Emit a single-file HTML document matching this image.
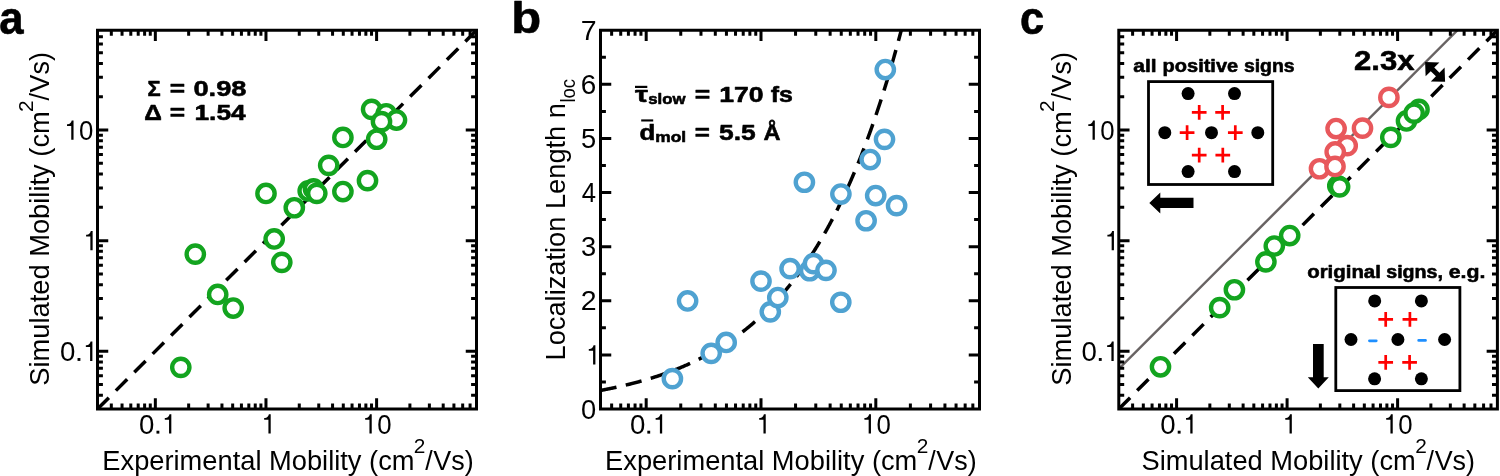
<!DOCTYPE html>
<html><head><meta charset="utf-8"><style>
html,body{margin:0;padding:0;background:#fff;width:1500px;height:476px;overflow:hidden}
svg{display:block}
svg{will-change:transform}
text{font-family:"Liberation Sans", sans-serif;font-size:100px}
</style></head><body>
<svg width="1500" height="476" viewBox="0 0 1500 476">
<rect width="1500" height="476" fill="#fff"/>
<defs><clipPath id="clipa"><rect x="97.5" y="30.25" width="379.00" height="378.75"/></clipPath><clipPath id="clipb"><rect x="600.5" y="30.25" width="379.00" height="378.75"/></clipPath><clipPath id="clipc"><rect x="1118.8" y="30.25" width="378.60" height="378.75"/></clipPath></defs><g clip-path="url(#clipa)"><path d="M97.5 409.0L476.5 30.25" stroke="#000" stroke-width="3.5" stroke-dasharray="16 10" fill="none"/><circle cx="180.80" cy="367.35" r="8.65" fill="#fff" stroke="#13a41f" stroke-width="4.4"/><circle cx="195.30" cy="254.15" r="8.65" fill="#fff" stroke="#13a41f" stroke-width="4.4"/><circle cx="217.70" cy="294.45" r="8.65" fill="#fff" stroke="#13a41f" stroke-width="4.4"/><circle cx="233.20" cy="308.05" r="8.65" fill="#fff" stroke="#13a41f" stroke-width="4.4"/><circle cx="266.00" cy="193.45" r="8.65" fill="#fff" stroke="#13a41f" stroke-width="4.4"/><circle cx="274.20" cy="238.95" r="8.65" fill="#fff" stroke="#13a41f" stroke-width="4.4"/><circle cx="281.80" cy="262.35" r="8.65" fill="#fff" stroke="#13a41f" stroke-width="4.4"/><circle cx="294.30" cy="207.75" r="8.65" fill="#fff" stroke="#13a41f" stroke-width="4.4"/><circle cx="308.20" cy="190.95" r="8.65" fill="#fff" stroke="#13a41f" stroke-width="4.4"/><circle cx="313.50" cy="188.95" r="8.65" fill="#fff" stroke="#13a41f" stroke-width="4.4"/><circle cx="316.80" cy="193.35" r="8.65" fill="#fff" stroke="#13a41f" stroke-width="4.4"/><circle cx="328.70" cy="165.35" r="8.65" fill="#fff" stroke="#13a41f" stroke-width="4.4"/><circle cx="342.90" cy="191.55" r="8.65" fill="#fff" stroke="#13a41f" stroke-width="4.4"/><circle cx="342.90" cy="137.45" r="8.65" fill="#fff" stroke="#13a41f" stroke-width="4.4"/><circle cx="367.50" cy="180.65" r="8.65" fill="#fff" stroke="#13a41f" stroke-width="4.4"/><circle cx="371.60" cy="109.35" r="8.65" fill="#fff" stroke="#13a41f" stroke-width="4.4"/><circle cx="386.20" cy="113.75" r="8.65" fill="#fff" stroke="#13a41f" stroke-width="4.4"/><circle cx="396.50" cy="120.05" r="8.65" fill="#fff" stroke="#13a41f" stroke-width="4.4"/><circle cx="381.50" cy="121.65" r="8.65" fill="#fff" stroke="#13a41f" stroke-width="4.4"/><circle cx="376.70" cy="139.25" r="8.65" fill="#fff" stroke="#13a41f" stroke-width="4.4"/></g><path d="M111.32 409.00V403.60M111.32 30.25V35.65M122.04 409.00V403.60M122.04 30.25V35.65M130.80 409.00V403.60M130.80 30.25V35.65M138.21 409.00V403.60M138.21 30.25V35.65M144.62 409.00V403.60M144.62 30.25V35.65M150.28 409.00V403.60M150.28 30.25V35.65M155.34 409.00V398.25M155.34 30.25V41.00M188.65 409.00V403.60M188.65 30.25V35.65M208.13 409.00V403.60M208.13 30.25V35.65M221.95 409.00V403.60M221.95 30.25V35.65M232.67 409.00V403.60M232.67 30.25V35.65M241.43 409.00V403.60M241.43 30.25V35.65M248.83 409.00V403.60M248.83 30.25V35.65M255.25 409.00V403.60M255.25 30.25V35.65M260.91 409.00V403.60M260.91 30.25V35.65M265.97 409.00V398.25M265.97 30.25V41.00M299.27 409.00V403.60M299.27 30.25V35.65M318.75 409.00V403.60M318.75 30.25V35.65M332.57 409.00V403.60M332.57 30.25V35.65M343.29 409.00V403.60M343.29 30.25V35.65M352.05 409.00V403.60M352.05 30.25V35.65M359.46 409.00V403.60M359.46 30.25V35.65M365.87 409.00V403.60M365.87 30.25V35.65M371.53 409.00V403.60M371.53 30.25V35.65M376.60 409.00V398.25M376.60 30.25V41.00M409.90 409.00V403.60M409.90 30.25V35.65M429.38 409.00V403.60M429.38 30.25V35.65M443.20 409.00V403.60M443.20 30.25V35.65M453.92 409.00V403.60M453.92 30.25V35.65M462.68 409.00V403.60M462.68 30.25V35.65M470.08 409.00V403.60M470.08 30.25V35.65M97.50 395.19H102.90M476.50 395.19H471.10M97.50 384.47H102.90M476.50 384.47H471.10M97.50 375.72H102.90M476.50 375.72H471.10M97.50 368.32H102.90M476.50 368.32H471.10M97.50 361.91H102.90M476.50 361.91H471.10M97.50 356.25H102.90M476.50 356.25H471.10M97.50 351.19H108.25M476.50 351.19H465.75M97.50 317.91H102.90M476.50 317.91H471.10M97.50 298.45H102.90M476.50 298.45H471.10M97.50 284.64H102.90M476.50 284.64H471.10M97.50 273.92H102.90M476.50 273.92H471.10M97.50 265.17H102.90M476.50 265.17H471.10M97.50 257.77H102.90M476.50 257.77H471.10M97.50 251.36H102.90M476.50 251.36H471.10M97.50 245.70H102.90M476.50 245.70H471.10M97.50 240.64H108.25M476.50 240.64H465.75M97.50 207.36H102.90M476.50 207.36H471.10M97.50 187.89H102.90M476.50 187.89H471.10M97.50 174.08H102.90M476.50 174.08H471.10M97.50 163.37H102.90M476.50 163.37H471.10M97.50 154.61H102.90M476.50 154.61H471.10M97.50 147.21H102.90M476.50 147.21H471.10M97.50 140.80H102.90M476.50 140.80H471.10M97.50 135.15H102.90M476.50 135.15H471.10M97.50 130.09H108.25M476.50 130.09H465.75M97.50 96.81H102.90M476.50 96.81H471.10M97.50 77.34H102.90M476.50 77.34H471.10M97.50 63.53H102.90M476.50 63.53H471.10M97.50 52.82H102.90M476.50 52.82H471.10M97.50 44.06H102.90M476.50 44.06H471.10M97.50 36.66H102.90M476.50 36.66H471.10" stroke="#000" stroke-width="3.0" fill="none"/><rect x="97.5" y="30.25" width="379.00" height="378.75" stroke="#000" stroke-width="3.0" fill="none"/><g clip-path="url(#clipb)"><path d="M600.50 390.44L601.00 390.35L601.50 390.25L602.00 390.16L602.50 390.07L603.00 389.97L603.50 389.87L604.00 389.78L604.50 389.68L605.00 389.58L605.50 389.49L606.00 389.39L606.50 389.29L607.00 389.19L607.50 389.09L608.00 388.99L608.50 388.89L609.00 388.79L609.50 388.69L610.00 388.59L610.50 388.48L611.00 388.38L611.50 388.28L612.00 388.17L612.50 388.07L613.00 387.96L613.50 387.86L614.00 387.75L614.50 387.64L615.00 387.54L615.50 387.43L616.00 387.32L616.50 387.21L617.00 387.10L617.50 386.99L618.00 386.88L618.50 386.77L619.00 386.66L619.50 386.55L620.00 386.43L620.50 386.32L621.00 386.21L621.50 386.09L622.00 385.98L622.50 385.86L623.00 385.74L623.50 385.63L624.00 385.51L624.50 385.39L625.00 385.27L625.50 385.15L626.00 385.03L626.50 384.91L627.00 384.79L627.50 384.67L628.00 384.55L628.50 384.43L629.00 384.30L629.50 384.18L630.00 384.05L630.50 383.93L631.00 383.80L631.50 383.67L632.00 383.55L632.50 383.42L633.00 383.29L633.50 383.16L634.00 383.03L634.50 382.90L635.00 382.77L635.50 382.64L636.00 382.51L636.50 382.37L637.00 382.24L637.50 382.10L638.00 381.97L638.50 381.83L639.00 381.70L639.50 381.56L640.00 381.42L640.50 381.28L641.00 381.14L641.50 381.00L642.00 380.86L642.50 380.72L643.00 380.58L643.50 380.44L644.00 380.29L644.50 380.15L645.00 380.00L645.50 379.86L646.00 379.71L646.50 379.56L647.00 379.42L647.50 379.27L648.00 379.12L648.50 378.97L649.00 378.82L649.50 378.67L650.00 378.51L650.50 378.36L651.00 378.21L651.50 378.05L652.00 377.90L652.50 377.74L653.00 377.58L653.50 377.42L654.00 377.27L654.50 377.11L655.00 376.95L655.50 376.78L656.00 376.62L656.50 376.46L657.00 376.30L657.50 376.13L658.00 375.97L658.50 375.80L659.00 375.63L659.50 375.47L660.00 375.30L660.50 375.13L661.00 374.96L661.50 374.79L662.00 374.61L662.50 374.44L663.00 374.27L663.50 374.09L664.00 373.92L664.50 373.74L665.00 373.56L665.50 373.39L666.00 373.21L666.50 373.03L667.00 372.85L667.50 372.66L668.00 372.48L668.50 372.30L669.00 372.11L669.50 371.93L670.00 371.74L670.50 371.56L671.00 371.37L671.50 371.18L672.00 370.99L672.50 370.80L673.00 370.60L673.50 370.41L674.00 370.22L674.50 370.02L675.00 369.83L675.50 369.63L676.00 369.43L676.50 369.23L677.00 369.03L677.50 368.83L678.00 368.63L678.50 368.43L679.00 368.22L679.50 368.02L680.00 367.81L680.50 367.61L681.00 367.40L681.50 367.19L682.00 366.98L682.50 366.77L683.00 366.55L683.50 366.34L684.00 366.13L684.50 365.91L685.00 365.69L685.50 365.48L686.00 365.26L686.50 365.04L687.00 364.82L687.50 364.60L688.00 364.37L688.50 364.15L689.00 363.92L689.50 363.70L690.00 363.47L690.50 363.24L691.00 363.01L691.50 362.78L692.00 362.55L692.50 362.31L693.00 362.08L693.50 361.84L694.00 361.60L694.50 361.37L695.00 361.13L695.50 360.89L696.00 360.64L696.50 360.40L697.00 360.16L697.50 359.91L698.00 359.67L698.50 359.42L699.00 359.17L699.50 358.92L700.00 358.67L700.50 358.41L701.00 358.16L701.50 357.90L702.00 357.65L702.50 357.39L703.00 357.13L703.50 356.87L704.00 356.61L704.50 356.34L705.00 356.08L705.50 355.81L706.00 355.54L706.50 355.28L707.00 355.01L707.50 354.73L708.00 354.46L708.50 354.19L709.00 353.91L709.50 353.64L710.00 353.36L710.50 353.08L711.00 352.80L711.50 352.51L712.00 352.23L712.50 351.94L713.00 351.66L713.50 351.37L714.00 351.08L714.50 350.79L715.00 350.50L715.50 350.20L716.00 349.91L716.50 349.61L717.00 349.31L717.50 349.01L718.00 348.71L718.50 348.41L719.00 348.10L719.50 347.80L720.00 347.49L720.50 347.18L721.00 346.87L721.50 346.56L722.00 346.24L722.50 345.93L723.00 345.61L723.50 345.29L724.00 344.97L724.50 344.65L725.00 344.33L725.50 344.00L726.00 343.67L726.50 343.34L727.00 343.01L727.50 342.68L728.00 342.35L728.50 342.01L729.00 341.68L729.50 341.34L730.00 341.00L730.50 340.66L731.00 340.31L731.50 339.97L732.00 339.62L732.50 339.27L733.00 338.92L733.50 338.57L734.00 338.22L734.50 337.86L735.00 337.50L735.50 337.14L736.00 336.78L736.50 336.42L737.00 336.06L737.50 335.69L738.00 335.32L738.50 334.95L739.00 334.58L739.50 334.20L740.00 333.83L740.50 333.45L741.00 333.07L741.50 332.69L742.00 332.30L742.50 331.92L743.00 331.53L743.50 331.14L744.00 330.75L744.50 330.36L745.00 329.96L745.50 329.56L746.00 329.17L746.50 328.76L747.00 328.36L747.50 327.96L748.00 327.55L748.50 327.14L749.00 326.73L749.50 326.31L750.00 325.90L750.50 325.48L751.00 325.06L751.50 324.64L752.00 324.21L752.50 323.79L753.00 323.36L753.50 322.93L754.00 322.50L754.50 322.06L755.00 321.63L755.50 321.19L756.00 320.75L756.50 320.30L757.00 319.86L757.50 319.41L758.00 318.96L758.50 318.50L759.00 318.05L759.50 317.59L760.00 317.13L760.50 316.67L761.00 316.21L761.50 315.74L762.00 315.27L762.50 314.80L763.00 314.33L763.50 313.85L764.00 313.37L764.50 312.89L765.00 312.41L765.50 311.92L766.00 311.44L766.50 310.95L767.00 310.45L767.50 309.96L768.00 309.46L768.50 308.96L769.00 308.46L769.50 307.95L770.00 307.44L770.50 306.93L771.00 306.42L771.50 305.90L772.00 305.39L772.50 304.87L773.00 304.34L773.50 303.82L774.00 303.29L774.50 302.76L775.00 302.22L775.50 301.69L776.00 301.15L776.50 300.60L777.00 300.06L777.50 299.51L778.00 298.96L778.50 298.41L779.00 297.85L779.50 297.29L780.00 296.73L780.50 296.17L781.00 295.60L781.50 295.03L782.00 294.46L782.50 293.88L783.00 293.30L783.50 292.72L784.00 292.14L784.50 291.55L785.00 290.96L785.50 290.37L786.00 289.77L786.50 289.17L787.00 288.57L787.50 287.96L788.00 287.35L788.50 286.74L789.00 286.13L789.50 285.51L790.00 284.89L790.50 284.27L791.00 283.64L791.50 283.01L792.00 282.38L792.50 281.74L793.00 281.10L793.50 280.46L794.00 279.81L794.50 279.16L795.00 278.51L795.50 277.85L796.00 277.19L796.50 276.53L797.00 275.87L797.50 275.20L798.00 274.52L798.50 273.85L799.00 273.17L799.50 272.49L800.00 271.80L800.50 271.11L801.00 270.42L801.50 269.72L802.00 269.02L802.50 268.32L803.00 267.61L803.50 266.90L804.00 266.18L804.50 265.47L805.00 264.75L805.50 264.02L806.00 263.29L806.50 262.56L807.00 261.82L807.50 261.08L808.00 260.34L808.50 259.59L809.00 258.84L809.50 258.09L810.00 257.33L810.50 256.57L811.00 255.80L811.50 255.03L812.00 254.26L812.50 253.48L813.00 252.70L813.50 251.91L814.00 251.12L814.50 250.33L815.00 249.53L815.50 248.73L816.00 247.92L816.50 247.11L817.00 246.30L817.50 245.48L818.00 244.66L818.50 243.83L819.00 243.00L819.50 242.17L820.00 241.33L820.50 240.49L821.00 239.64L821.50 238.79L822.00 237.93L822.50 237.07L823.00 236.21L823.50 235.34L824.00 234.47L824.50 233.59L825.00 232.71L825.50 231.82L826.00 230.93L826.50 230.04L827.00 229.14L827.50 228.23L828.00 227.33L828.50 226.41L829.00 225.49L829.50 224.57L830.00 223.65L830.50 222.71L831.00 221.78L831.50 220.84L832.00 219.89L832.50 218.94L833.00 217.98L833.50 217.02L834.00 216.06L834.50 215.09L835.00 214.12L835.50 213.14L836.00 212.15L836.50 211.16L837.00 210.17L837.50 209.17L838.00 208.16L838.50 207.15L839.00 206.14L839.50 205.12L840.00 204.10L840.50 203.07L841.00 202.03L841.50 200.99L842.00 199.94L842.50 198.89L843.00 197.84L843.50 196.78L844.00 195.71L844.50 194.64L845.00 193.56L845.50 192.48L846.00 191.39L846.50 190.29L847.00 189.20L847.50 188.09L848.00 186.98L848.50 185.86L849.00 184.74L849.50 183.62L850.00 182.48L850.50 181.34L851.00 180.20L851.50 179.05L852.00 177.89L852.50 176.73L853.00 175.56L853.50 174.39L854.00 173.21L854.50 172.03L855.00 170.84L855.50 169.64L856.00 168.44L856.50 167.23L857.00 166.01L857.50 164.79L858.00 163.56L858.50 162.33L859.00 161.09L859.50 159.84L860.00 158.59L860.50 157.33L861.00 156.07L861.50 154.80L862.00 153.52L862.50 152.23L863.00 150.94L863.50 149.65L864.00 148.34L864.50 147.03L865.00 145.72L865.50 144.39L866.00 143.06L866.50 141.73L867.00 140.38L867.50 139.03L868.00 137.67L868.50 136.31L869.00 134.94L869.50 133.56L870.00 132.18L870.50 130.79L871.00 129.39L871.50 127.98L872.00 126.57L872.50 125.15L873.00 123.72L873.50 122.29L874.00 120.85L874.50 119.40L875.00 117.95L875.50 116.48L876.00 115.01L876.50 113.53L877.00 112.05L877.50 110.56L878.00 109.06L878.50 107.55L879.00 106.03L879.50 104.51L880.00 102.98L880.50 101.44L881.00 99.90L881.50 98.34L882.00 96.78L882.50 95.21L883.00 93.63L883.50 92.05L884.00 90.46L884.50 88.86L885.00 87.25L885.50 85.63L886.00 84.00L886.50 82.37L887.00 80.73L887.50 79.08L888.00 77.42L888.50 75.75L889.00 74.08L889.50 72.39L890.00 70.70L890.50 69.00L891.00 67.29L891.50 65.58L892.00 63.85L892.50 62.11L893.00 60.37L893.50 58.62L894.00 56.86L894.50 55.09L895.00 53.31L895.50 51.52L896.00 49.72L896.50 47.92L897.00 46.10L897.50 44.28L898.00 42.45L898.50 40.60L899.00 38.75L899.50 36.89L900.00 35.02L900.50 33.14L901.00 31.25L901.50 29.35L902.00 27.44L902.50 25.53L903.00 23.60" stroke="#000" stroke-width="3.5" stroke-dasharray="16.3 9.54" fill="none"/><circle cx="672.40" cy="378.65" r="8.65" fill="#fff" stroke="#4fa2d1" stroke-width="4.4"/><circle cx="687.60" cy="300.95" r="8.65" fill="#fff" stroke="#4fa2d1" stroke-width="4.4"/><circle cx="711.20" cy="353.35" r="8.65" fill="#fff" stroke="#4fa2d1" stroke-width="4.4"/><circle cx="726.20" cy="342.45" r="8.65" fill="#fff" stroke="#4fa2d1" stroke-width="4.4"/><circle cx="761.00" cy="281.15" r="8.65" fill="#fff" stroke="#4fa2d1" stroke-width="4.4"/><circle cx="770.30" cy="311.85" r="8.65" fill="#fff" stroke="#4fa2d1" stroke-width="4.4"/><circle cx="777.80" cy="297.55" r="8.65" fill="#fff" stroke="#4fa2d1" stroke-width="4.4"/><circle cx="790.10" cy="268.65" r="8.65" fill="#fff" stroke="#4fa2d1" stroke-width="4.4"/><circle cx="809.70" cy="270.75" r="8.65" fill="#fff" stroke="#4fa2d1" stroke-width="4.4"/><circle cx="813.50" cy="263.65" r="8.65" fill="#fff" stroke="#4fa2d1" stroke-width="4.4"/><circle cx="826.00" cy="270.35" r="8.65" fill="#fff" stroke="#4fa2d1" stroke-width="4.4"/><circle cx="840.80" cy="302.25" r="8.65" fill="#fff" stroke="#4fa2d1" stroke-width="4.4"/><circle cx="804.40" cy="182.25" r="8.65" fill="#fff" stroke="#4fa2d1" stroke-width="4.4"/><circle cx="840.90" cy="194.05" r="8.65" fill="#fff" stroke="#4fa2d1" stroke-width="4.4"/><circle cx="866.10" cy="220.75" r="8.65" fill="#fff" stroke="#4fa2d1" stroke-width="4.4"/><circle cx="870.20" cy="159.55" r="8.65" fill="#fff" stroke="#4fa2d1" stroke-width="4.4"/><circle cx="875.70" cy="195.55" r="8.65" fill="#fff" stroke="#4fa2d1" stroke-width="4.4"/><circle cx="884.50" cy="139.35" r="8.65" fill="#fff" stroke="#4fa2d1" stroke-width="4.4"/><circle cx="885.30" cy="69.55" r="8.65" fill="#fff" stroke="#4fa2d1" stroke-width="4.4"/><circle cx="896.60" cy="205.65" r="8.65" fill="#fff" stroke="#4fa2d1" stroke-width="4.4"/></g><path d="M611.63 409.00V403.60M611.63 30.25V35.65M620.72 409.00V403.60M620.72 30.25V35.65M628.40 409.00V403.60M628.40 30.25V35.65M635.06 409.00V403.60M635.06 30.25V35.65M640.94 409.00V403.60M640.94 30.25V35.65M646.19 409.00V398.25M646.19 30.25V41.00M680.75 409.00V403.60M680.75 30.25V35.65M700.97 409.00V403.60M700.97 30.25V35.65M715.31 409.00V403.60M715.31 30.25V35.65M726.44 409.00V403.60M726.44 30.25V35.65M735.53 409.00V403.60M735.53 30.25V35.65M743.22 409.00V403.60M743.22 30.25V35.65M749.87 409.00V403.60M749.87 30.25V35.65M755.75 409.00V403.60M755.75 30.25V35.65M761.00 409.00V398.25M761.00 30.25V41.00M795.56 409.00V403.60M795.56 30.25V35.65M815.78 409.00V403.60M815.78 30.25V35.65M830.13 409.00V403.60M830.13 30.25V35.65M841.25 409.00V403.60M841.25 30.25V35.65M850.34 409.00V403.60M850.34 30.25V35.65M858.03 409.00V403.60M858.03 30.25V35.65M864.69 409.00V403.60M864.69 30.25V35.65M870.56 409.00V403.60M870.56 30.25V35.65M875.81 409.00V398.25M875.81 30.25V41.00M910.38 409.00V403.60M910.38 30.25V35.65M930.59 409.00V403.60M930.59 30.25V35.65M944.94 409.00V403.60M944.94 30.25V35.65M956.06 409.00V403.60M956.06 30.25V35.65M965.16 409.00V403.60M965.16 30.25V35.65M972.84 409.00V403.60M972.84 30.25V35.65M600.50 381.95H605.90M979.50 381.95H974.10M600.50 354.89H611.25M979.50 354.89H968.75M600.50 327.84H605.90M979.50 327.84H974.10M600.50 300.79H611.25M979.50 300.79H968.75M600.50 273.73H605.90M979.50 273.73H974.10M600.50 246.68H611.25M979.50 246.68H968.75M600.50 219.62H605.90M979.50 219.62H974.10M600.50 192.57H611.25M979.50 192.57H968.75M600.50 165.52H605.90M979.50 165.52H974.10M600.50 138.46H611.25M979.50 138.46H968.75M600.50 111.41H605.90M979.50 111.41H974.10M600.50 84.36H611.25M979.50 84.36H968.75M600.50 57.30H605.90M979.50 57.30H974.10" stroke="#000" stroke-width="3.0" fill="none"/><rect x="600.5" y="30.25" width="379.00" height="378.75" stroke="#000" stroke-width="3.0" fill="none"/><g clip-path="url(#clipc)"><path d="M1118.80 369.01L1460.43 27.25" stroke="#686363" stroke-width="2.4" fill="none"/><path d="M1118.8 409.0L1497.4 30.25" stroke="#000" stroke-width="3.5" stroke-dasharray="16 10" fill="none"/><circle cx="1160.50" cy="366.80" r="8.65" fill="#fff" stroke="#13a41f" stroke-width="4.4"/><circle cx="1219.70" cy="307.65" r="8.65" fill="#fff" stroke="#13a41f" stroke-width="4.4"/><circle cx="1234.40" cy="289.75" r="8.65" fill="#fff" stroke="#13a41f" stroke-width="4.4"/><circle cx="1265.90" cy="261.85" r="8.65" fill="#fff" stroke="#13a41f" stroke-width="4.4"/><circle cx="1274.30" cy="246.05" r="8.65" fill="#fff" stroke="#13a41f" stroke-width="4.4"/><circle cx="1289.70" cy="235.55" r="8.65" fill="#fff" stroke="#13a41f" stroke-width="4.4"/><circle cx="1337.80" cy="185.85" r="8.65" fill="#fff" stroke="#13a41f" stroke-width="4.4"/><circle cx="1339.60" cy="186.85" r="8.65" fill="#fff" stroke="#13a41f" stroke-width="4.4"/><circle cx="1390.80" cy="137.35" r="8.65" fill="#fff" stroke="#13a41f" stroke-width="4.4"/><circle cx="1406.50" cy="120.95" r="8.65" fill="#fff" stroke="#13a41f" stroke-width="4.4"/><circle cx="1419.00" cy="109.45" r="8.65" fill="#fff" stroke="#13a41f" stroke-width="4.4"/><circle cx="1414.10" cy="113.15" r="8.65" fill="#fff" stroke="#13a41f" stroke-width="4.4"/><circle cx="1388.90" cy="97.40" r="8.65" fill="#fff" stroke="#e8585c" stroke-width="4.4"/><circle cx="1336.10" cy="128.55" r="8.65" fill="#fff" stroke="#e8585c" stroke-width="4.4"/><circle cx="1362.50" cy="128.15" r="8.65" fill="#fff" stroke="#e8585c" stroke-width="4.4"/><circle cx="1347.20" cy="145.65" r="8.65" fill="#fff" stroke="#e8585c" stroke-width="4.4"/><circle cx="1335.20" cy="151.95" r="8.65" fill="#fff" stroke="#e8585c" stroke-width="4.4"/><circle cx="1319.50" cy="168.75" r="8.65" fill="#fff" stroke="#e8585c" stroke-width="4.4"/><circle cx="1335.00" cy="166.45" r="8.65" fill="#fff" stroke="#e8585c" stroke-width="4.4"/></g><path d="M1132.61 409.00V403.60M1132.61 30.25V35.65M1143.32 409.00V403.60M1143.32 30.25V35.65M1152.07 409.00V403.60M1152.07 30.25V35.65M1159.46 409.00V403.60M1159.46 30.25V35.65M1165.87 409.00V403.60M1165.87 30.25V35.65M1171.53 409.00V403.60M1171.53 30.25V35.65M1176.58 409.00V398.25M1176.58 30.25V41.00M1209.85 409.00V403.60M1209.85 30.25V35.65M1229.31 409.00V403.60M1229.31 30.25V35.65M1243.12 409.00V403.60M1243.12 30.25V35.65M1253.83 409.00V403.60M1253.83 30.25V35.65M1262.58 409.00V403.60M1262.58 30.25V35.65M1269.97 409.00V403.60M1269.97 30.25V35.65M1276.38 409.00V403.60M1276.38 30.25V35.65M1282.04 409.00V403.60M1282.04 30.25V35.65M1287.09 409.00V398.25M1287.09 30.25V41.00M1320.36 409.00V403.60M1320.36 30.25V35.65M1339.82 409.00V403.60M1339.82 30.25V35.65M1353.62 409.00V403.60M1353.62 30.25V35.65M1364.33 409.00V403.60M1364.33 30.25V35.65M1373.08 409.00V403.60M1373.08 30.25V35.65M1380.48 409.00V403.60M1380.48 30.25V35.65M1386.89 409.00V403.60M1386.89 30.25V35.65M1392.54 409.00V403.60M1392.54 30.25V35.65M1397.60 409.00V398.25M1397.60 30.25V41.00M1430.87 409.00V403.60M1430.87 30.25V35.65M1450.33 409.00V403.60M1450.33 30.25V35.65M1464.13 409.00V403.60M1464.13 30.25V35.65M1474.84 409.00V403.60M1474.84 30.25V35.65M1483.59 409.00V403.60M1483.59 30.25V35.65M1490.99 409.00V403.60M1490.99 30.25V35.65M1118.80 395.19H1124.20M1497.40 395.19H1492.00M1118.80 384.47H1124.20M1497.40 384.47H1492.00M1118.80 375.72H1124.20M1497.40 375.72H1492.00M1118.80 368.32H1124.20M1497.40 368.32H1492.00M1118.80 361.91H1124.20M1497.40 361.91H1492.00M1118.80 356.25H1124.20M1497.40 356.25H1492.00M1118.80 351.19H1129.55M1497.40 351.19H1486.65M1118.80 317.91H1124.20M1497.40 317.91H1492.00M1118.80 298.45H1124.20M1497.40 298.45H1492.00M1118.80 284.64H1124.20M1497.40 284.64H1492.00M1118.80 273.92H1124.20M1497.40 273.92H1492.00M1118.80 265.17H1124.20M1497.40 265.17H1492.00M1118.80 257.77H1124.20M1497.40 257.77H1492.00M1118.80 251.36H1124.20M1497.40 251.36H1492.00M1118.80 245.70H1124.20M1497.40 245.70H1492.00M1118.80 240.64H1129.55M1497.40 240.64H1486.65M1118.80 207.36H1124.20M1497.40 207.36H1492.00M1118.80 187.89H1124.20M1497.40 187.89H1492.00M1118.80 174.08H1124.20M1497.40 174.08H1492.00M1118.80 163.37H1124.20M1497.40 163.37H1492.00M1118.80 154.61H1124.20M1497.40 154.61H1492.00M1118.80 147.21H1124.20M1497.40 147.21H1492.00M1118.80 140.80H1124.20M1497.40 140.80H1492.00M1118.80 135.15H1124.20M1497.40 135.15H1492.00M1118.80 130.09H1129.55M1497.40 130.09H1486.65M1118.80 96.81H1124.20M1497.40 96.81H1492.00M1118.80 77.34H1124.20M1497.40 77.34H1492.00M1118.80 63.53H1124.20M1497.40 63.53H1492.00M1118.80 52.82H1124.20M1497.40 52.82H1492.00M1118.80 44.06H1124.20M1497.40 44.06H1492.00M1118.80 36.66H1124.20M1497.40 36.66H1492.00" stroke="#000" stroke-width="3.0" fill="none"/><rect x="1118.8" y="30.25" width="378.60" height="378.75" stroke="#000" stroke-width="3.0" fill="none"/><rect x="1148.5" y="81.6" width="124.20" height="102.90" stroke="#000" stroke-width="2.8" fill="#fff"/><circle cx="1188.1" cy="93.6" r="6.5" fill="#000"/><circle cx="1234.5" cy="93.6" r="6.5" fill="#000"/><circle cx="1164.8" cy="132.7" r="6.5" fill="#000"/><circle cx="1211.5" cy="132.7" r="6.5" fill="#000"/><circle cx="1257.8" cy="132.7" r="6.5" fill="#000"/><circle cx="1188.1" cy="171.6" r="6.5" fill="#000"/><circle cx="1234.5" cy="171.6" r="6.5" fill="#000"/><path d="M1191.85 112.30H1206.55M1199.20 104.95V119.65M1215.25 112.30H1229.95M1222.60 104.95V119.65M1179.75 132.70H1194.45M1187.10 125.35V140.05M1227.95 132.70H1242.65M1235.30 125.35V140.05M1191.85 155.20H1206.55M1199.20 147.85V162.55M1215.45 155.20H1230.15M1222.80 147.85V162.55" stroke="#f00" stroke-width="2.7" fill="none"/><rect x="1335.8" y="287.5" width="124.10" height="103.10" stroke="#000" stroke-width="2.8" fill="#fff"/><circle cx="1374.7" cy="300.9" r="6.5" fill="#000"/><circle cx="1421.4" cy="300.9" r="6.5" fill="#000"/><circle cx="1351" cy="339.5" r="6.5" fill="#000"/><circle cx="1397.9" cy="339.5" r="6.5" fill="#000"/><circle cx="1444.6" cy="339.5" r="6.5" fill="#000"/><circle cx="1374.6" cy="378.8" r="6.5" fill="#000"/><circle cx="1421.4" cy="378.8" r="6.5" fill="#000"/><path d="M1378.35 319.30H1393.05M1385.70 311.95V326.65M1402.55 319.30H1417.25M1409.90 311.95V326.65M1378.35 362.40H1393.05M1385.70 355.05V369.75M1402.25 362.40H1416.95M1409.60 355.05V369.75" stroke="#f00" stroke-width="2.7" fill="none"/><path d="M1369.45 340.80H1376.25M1418.70 340.45H1425.50" stroke="#1e8fff" stroke-width="2.8" stroke-linecap="round" fill="none"/><path d="M1149.3 203L1160.3 192.5V197.8H1193.5V208.1H1160.3V213.5Z" fill="#000"/><path d="M1313 344H1323.7V377.2H1328.8L1318.3 388.5L1307.8 377.2H1313Z" fill="#000"/><path d="M1425.10 62.08L1439.38 62.41L1434.26 67.61L1439.45 72.73L1444.58 67.54L1445.10 81.82L1430.82 81.49L1435.94 76.29L1430.75 71.17L1425.62 76.36Z" fill="#000"/><rect x="156.48" y="430.73" width="2.87" height="2.87" fill="#000"/><path transform="translate(162.04,433.60) scale(0.02645,-0.02760)" d="M351 703L351 0L265 0L265 501L104 501L104 563C219 578 248 601 283 703Z" fill="#000"/><path transform="translate(261.42,433.60) scale(0.02645,-0.02760)" d="M351 703L351 0L265 0L265 501L104 501L104 563C219 578 248 601 283 703Z" fill="#000"/><path transform="translate(362.44,433.60) scale(0.02645,-0.02760)" d="M351 703L351 0L265 0L265 501L104 501L104 563C219 578 248 601 283 703Z" fill="#000"/><rect x="647.32" y="430.73" width="2.87" height="2.87" fill="#000"/><path transform="translate(652.89,433.60) scale(0.02645,-0.02760)" d="M351 703L351 0L265 0L265 501L104 501L104 563C219 578 248 601 283 703Z" fill="#000"/><path transform="translate(756.45,433.60) scale(0.02645,-0.02760)" d="M351 703L351 0L265 0L265 501L104 501L104 563C219 578 248 601 283 703Z" fill="#000"/><path transform="translate(861.66,433.60) scale(0.02645,-0.02760)" d="M351 703L351 0L265 0L265 501L104 501L104 563C219 578 248 601 283 703Z" fill="#000"/><rect x="1177.72" y="430.73" width="2.87" height="2.87" fill="#000"/><path transform="translate(1183.28,433.60) scale(0.02645,-0.02760)" d="M351 703L351 0L265 0L265 501L104 501L104 563C219 578 248 601 283 703Z" fill="#000"/><path transform="translate(1282.54,433.60) scale(0.02645,-0.02760)" d="M351 703L351 0L265 0L265 501L104 501L104 563C219 578 248 601 283 703Z" fill="#000"/><path transform="translate(1383.45,433.60) scale(0.02645,-0.02760)" d="M351 703L351 0L265 0L265 501L104 501L104 563C219 578 248 601 283 703Z" fill="#000"/><path transform="translate(64.25,139.79) scale(0.02645,-0.02760)" d="M351 703L351 0L265 0L265 501L104 501L104 563C219 578 248 601 283 703Z" fill="#000"/><path transform="translate(83.35,250.34) scale(0.02645,-0.02760)" d="M351 703L351 0L265 0L265 501L104 501L104 563C219 578 248 601 283 703Z" fill="#000"/><rect x="77.53" y="358.02" width="2.87" height="2.87" fill="#000"/><path transform="translate(83.10,360.89) scale(0.02645,-0.02760)" d="M351 703L351 0L265 0L265 501L104 501L104 563C219 578 248 601 283 703Z" fill="#000"/><path transform="translate(1085.55,139.79) scale(0.02645,-0.02760)" d="M351 703L351 0L265 0L265 501L104 501L104 563C219 578 248 601 283 703Z" fill="#000"/><path transform="translate(1104.65,250.34) scale(0.02645,-0.02760)" d="M351 703L351 0L265 0L265 501L104 501L104 563C219 578 248 601 283 703Z" fill="#000"/><rect x="1098.83" y="358.02" width="2.87" height="2.87" fill="#000"/><path transform="translate(1104.40,360.89) scale(0.02645,-0.02760)" d="M351 703L351 0L265 0L265 501L104 501L104 563C219 578 248 601 283 703Z" fill="#000"/><path transform="translate(586.02,364.59) scale(0.02672,-0.02760)" d="M351 703L351 0L265 0L265 501L104 501L104 563C219 578 248 601 283 703Z" fill="#000"/><rect x="635" y="85.8" width="12.3" height="2.2" fill="#000"/><rect x="641.2" y="119.4" width="12" height="2.1" fill="#000"/><text transform="translate(-0.81,33.60) scale(0.4370,0.4556)" style="font-weight:bold;" stroke="#000" stroke-width="1.34" stroke-linejoin="round">a</text><text transform="translate(511.26,33.10) scale(0.4902,0.4466)" style="font-weight:bold;" stroke="#000" stroke-width="1.28" stroke-linejoin="round">b</text><text transform="translate(1020.06,33.60) scale(0.4347,0.4556)" style="font-weight:bold;" stroke="#000" stroke-width="1.35" stroke-linejoin="round">c</text><text transform="translate(139.04,433.90) scale(0.2763,0.2843)" style="">0</text><text transform="translate(377.23,433.90) scale(0.2578,0.2843)" style="">0</text><text transform="translate(629.88,433.90) scale(0.2763,0.2843)" style="">0</text><text transform="translate(876.45,433.90) scale(0.2578,0.2843)" style="">0</text><text transform="translate(1160.28,433.90) scale(0.2763,0.2843)" style="">0</text><text transform="translate(1398.24,433.90) scale(0.2578,0.2843)" style="">0</text><text transform="translate(79.04,140.09) scale(0.2578,0.2843)" style="">0</text><text transform="translate(60.09,361.19) scale(0.2763,0.2843)" style="">0</text><text transform="translate(1100.34,140.09) scale(0.2578,0.2843)" style="">0</text><text transform="translate(1081.39,361.19) scale(0.2763,0.2843)" style="">0</text><text transform="translate(581.11,418.70) scale(0.2729,0.2800)" style="">0</text><text transform="translate(580.78,310.49) scale(0.2848,0.2800)" style="">2</text><text transform="translate(581.11,256.38) scale(0.2729,0.2800)" style="">3</text><text transform="translate(581.69,202.27) scale(0.2569,0.2800)" style="">4</text><text transform="translate(581.11,148.16) scale(0.2729,0.2841)" style="">5</text><text transform="translate(580.81,94.06) scale(0.2787,0.2800)" style="">6</text><text transform="translate(580.78,39.95) scale(0.2848,0.2800)" style="">7</text><text transform="translate(102.32,469.50) scale(0.2728,0.2808)" style="">Experimental Mobility (cm</text><text transform="translate(413.86,452.80) scale(0.2087,0.1986)" style="">2</text><text transform="translate(425.20,469.50) scale(0.2679,0.2808)" style="">/</text><text transform="translate(433.33,469.50) scale(0.2692,0.2808)" style="">Vs)</text><text transform="translate(605.12,469.50) scale(0.2729,0.2808)" style="">Experimental Mobility (cm</text><text transform="translate(916.86,452.80) scale(0.2087,0.1986)" style="">2</text><text transform="translate(928.20,469.50) scale(0.2679,0.2808)" style="">/</text><text transform="translate(936.33,469.50) scale(0.2692,0.2808)" style="">Vs)</text><text transform="translate(1141.44,469.50) scale(0.2729,0.2808)" style="">Simulated Mobility (cm</text><text transform="translate(1415.16,452.80) scale(0.2087,0.1986)" style="">2</text><text transform="translate(1426.50,469.50) scale(0.2679,0.2808)" style="">/</text><text transform="translate(1434.63,469.50) scale(0.2692,0.2808)" style="">Vs)</text><text transform="translate(49.30,385.76) rotate(-90) scale(0.2730,0.2808)" style="">Simulated Mobility (cm</text><text transform="translate(32.60,111.94) rotate(-90) scale(0.2087,0.1986)" style="">2</text><text transform="translate(49.30,100.60) rotate(-90) scale(0.2679,0.2808)" style="">/</text><text transform="translate(49.30,92.47) rotate(-90) scale(0.2692,0.2808)" style="">Vs)</text><text transform="translate(1070.60,385.76) rotate(-90) scale(0.2730,0.2808)" style="">Simulated Mobility (cm</text><text transform="translate(1053.90,111.94) rotate(-90) scale(0.2087,0.1986)" style="">2</text><text transform="translate(1070.60,100.60) rotate(-90) scale(0.2679,0.2808)" style="">/</text><text transform="translate(1070.60,92.47) rotate(-90) scale(0.2692,0.2808)" style="">Vs)</text><text transform="translate(564.70,360.48) rotate(-90) scale(0.2725,0.2740)" style="">Localization Length n</text><text transform="translate(575.40,102.61) rotate(-90) scale(0.1857,0.1932)" style="">loc</text><text transform="translate(147.52,96.30) scale(0.2189,0.2286)" style="font-weight:bold;" stroke="#000" stroke-width="2.68" stroke-linejoin="round">Σ</text><text transform="translate(169.65,96.30) scale(0.2627,0.2286)" style="font-weight:bold;" stroke="#000" stroke-width="2.44" stroke-linejoin="round">=</text><text transform="translate(193.41,96.30) scale(0.2729,0.2286)" style="font-weight:bold;" stroke="#000" stroke-width="2.39" stroke-linejoin="round">0.98</text><text transform="translate(144.32,120.20) scale(0.2453,0.2261)" style="font-weight:bold;" stroke="#000" stroke-width="2.55" stroke-linejoin="round">Δ</text><text transform="translate(169.65,120.20) scale(0.2627,0.2261)" style="font-weight:bold;" stroke="#000" stroke-width="2.45" stroke-linejoin="round">=</text><text transform="translate(194.42,120.20) scale(0.2635,0.2261)" style="font-weight:bold;" stroke="#000" stroke-width="2.45" stroke-linejoin="round">1.54</text><text transform="translate(635.00,101.70) scale(0.2930,0.2189)" style="font-weight:bold;" stroke="#000" stroke-width="2.34" stroke-linejoin="round">τ</text><text transform="translate(648.23,104.30) scale(0.1679,0.1534)" style="font-weight:bold;" stroke="#000" stroke-width="3.73" stroke-linejoin="round">slow</text><text transform="translate(694.64,102.00) scale(0.2647,0.2247)" style="font-weight:bold;" stroke="#000" stroke-width="2.45" stroke-linejoin="round">=</text><text transform="translate(719.20,102.00) scale(0.2662,0.2247)" style="font-weight:bold;" stroke="#000" stroke-width="2.44" stroke-linejoin="round">170</text><text transform="translate(770.75,102.00) scale(0.2488,0.2247)" style="font-weight:bold;" stroke="#000" stroke-width="2.53" stroke-linejoin="round">fs</text><text transform="translate(639.56,140.00) scale(0.2588,0.2137)" style="font-weight:bold;" stroke="#000" stroke-width="2.54" stroke-linejoin="round">d</text><text transform="translate(655.36,142.40) scale(0.1733,0.1479)" style="font-weight:bold;" stroke="#000" stroke-width="3.74" stroke-linejoin="round">mol</text><text transform="translate(694.76,140.00) scale(0.2588,0.2135)" style="font-weight:bold;" stroke="#000" stroke-width="2.54" stroke-linejoin="round">=</text><text transform="translate(719.01,140.00) scale(0.2642,0.2135)" style="font-weight:bold;" stroke="#000" stroke-width="2.51" stroke-linejoin="round">5.5</text><text transform="translate(763.49,140.00) scale(0.2364,0.2135)" style="font-weight:bold;" stroke="#000" stroke-width="2.67" stroke-linejoin="round">Å</text><text transform="translate(1133.37,72.00) scale(0.2098,0.1767)" style="font-weight:bold;" stroke="#000" stroke-width="3.10" stroke-linejoin="round">all</text><text transform="translate(1162.60,72.00) scale(0.2000,0.1767)" style="font-weight:bold;" stroke="#000" stroke-width="3.19" stroke-linejoin="round">positive</text><text transform="translate(1243.92,72.00) scale(0.1941,0.1767)" style="font-weight:bold;" stroke="#000" stroke-width="3.24" stroke-linejoin="round">signs</text><text transform="translate(1307.18,277.60) scale(0.2043,0.1767)" style="font-weight:bold;" stroke="#000" stroke-width="3.15" stroke-linejoin="round">original</text><text transform="translate(1386.21,277.60) scale(0.1964,0.1767)" style="font-weight:bold;" stroke="#000" stroke-width="3.22" stroke-linejoin="round">signs,</text><text transform="translate(1448.75,277.60) scale(0.2130,0.1767)" style="font-weight:bold;" stroke="#000" stroke-width="3.08" stroke-linejoin="round">e.g.</text><text transform="translate(1353.97,69.90) scale(0.3110,0.2700)" style="font-weight:bold;" stroke="#000" stroke-width="2.07" stroke-linejoin="round">2.3x</text>
</svg></body></html>
